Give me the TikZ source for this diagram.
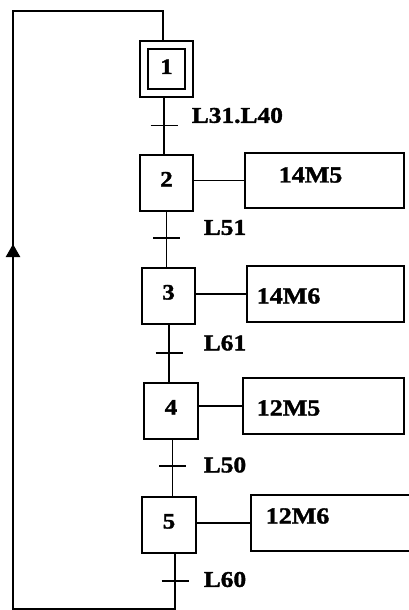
\documentclass[tikz,border=0pt]{standalone}
\usepackage{fontspec}
\setmainfont{Liberation Serif}
\newfontfamily\tbf{Liberation Serif Bold}[FakeStretch=1.13,FakeBold=1.6]
\usetikzlibrary{arrows.meta}
\begin{document}
\begin{tikzpicture}[x=1pt,y=-1pt,line width=1.6pt,
  stepbox/.style={draw,rectangle,minimum width=53pt,minimum height=56pt,inner sep=0pt,
    font=\fontsize{22}{24}\tbf,text height=15pt,text depth=8pt},
  actbox/.style={draw,rectangle,minimum height=56pt,inner sep=0pt},
  lbl/.style={anchor=west,inner sep=0pt,font=\fontsize{22.5}{24}\tbf},
  acttxt/.style={anchor=west,inner sep=0pt,font=\fontsize{23}{25}\tbf}]
\useasboundingbox (0,0) rectangle (409,610);
% steps
\node[stepbox,double,double distance=6.4pt,minimum width=45pt,minimum height=47.5pt,
      outer sep=4pt,text height=15pt,text depth=5pt] (s1) at (166.5,69) {1};
\node[stepbox] (s2) at (166.5,183) {2};
\node[stepbox] (s3) at (168.5,296) {3};
\node[stepbox,minimum width=54pt] (s4) at (171,411) {4};
\node[stepbox,minimum width=54pt] (s5) at (169,525) {5};
% actions
\node[actbox,minimum width=159pt,minimum height=55pt] (a2) at (324.5,180.5) {};
\node[actbox,minimum width=157pt] (a3) at (325.5,294) {};
\node[actbox,minimum width=161pt] (a4) at (323.5,406) {};
\node[actbox,minimum width=161pt] (a5) at (331.5,523) {};
\node[acttxt] (x2) at (278,175) {14M5};
\node[acttxt] (x3) at (256,296) {14M6};
\node[acttxt] (x4) at (256,408) {12M5};
\node[acttxt] (x5) at (265,516) {12M6};
\draw (s2.east |- a2.west) -- (a2.west);
\draw (s3.east |- a3.west) -- (a3.west);
\draw (s4.east |- a4.west) -- (a4.west);
\draw (s5.east |- a5.west) -- (a5.west);
% transitions
\coordinate (t1) at (164,125.5);
\coordinate (t2) at (166.5,238);
\coordinate (t3) at (169,353);
\coordinate (t4) at (172.5,466);
\coordinate (t5) at (175,581);
\draw (s1.south -| t1) -- (s2.north -| t1);
\draw (s2.south -| t2) -- (s3.north -| t2);
\draw (s3.south -| t3) -- (s4.north -| t3);
\draw (s4.south -| t4) -- (s5.north -| t4);
\foreach \t in {t1,t2,t3,t4,t5}
  \draw ([xshift=-13.5pt]\t) -- ([xshift=13.5pt]\t);
\node[lbl] (l1) at (191,115.5) {L31.L40};
\node[lbl] (l2) at (203,227.5) {L51};
\node[lbl] (l3) at (203,343) {L61};
\node[lbl] (l4) at (203,465) {L50};
\node[lbl] (l5) at (203,579.5) {L60};
% loop back
\coordinate (bl) at (13,609);
\coordinate (tl) at (13,11);
\coordinate (tr) at (163,11);
\coordinate (ab) at (13,326);
\coordinate (at) at (13,244);
\draw (s5.south -| t5) -- (t5) |- (bl) -- (tl) -- (tr) -- (s1.north -| tr);
\draw[line width=2.4pt,-{Triangle[length=13pt,width=14pt]}] (ab) -- (at);
\end{tikzpicture}
\end{document}
